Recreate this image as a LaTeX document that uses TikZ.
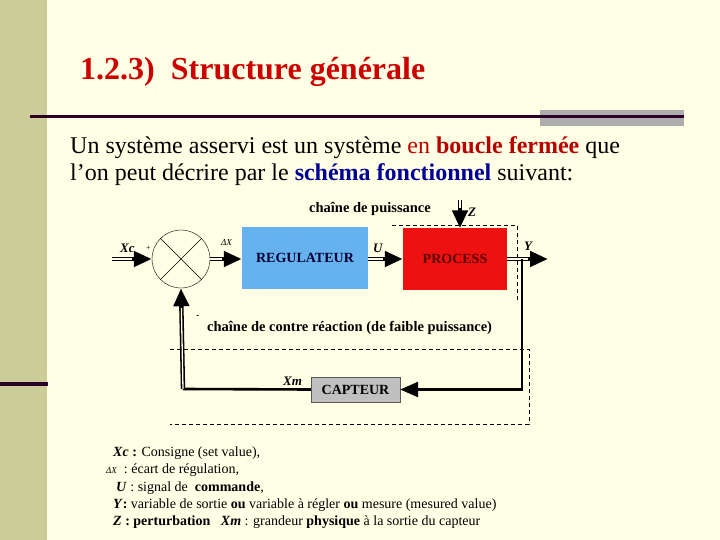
\documentclass[tikz,border=0pt]{standalone}
\usepackage{fontspec}
\setmainfont{Liberation Serif}
\usetikzlibrary{arrows.meta}
\definecolor{fond}{RGB}{255,255,229}
\definecolor{barre}{RGB}{204,204,153}
\definecolor{trait}{RGB}{45,0,40}
\definecolor{titre}{RGB}{204,0,0}
\definecolor{rouge}{RGB}{185,0,0}
\definecolor{bleu}{RGB}{0,0,150}
\definecolor{regbleu}{RGB}{102,178,238}
\definecolor{procrouge}{RGB}{238,17,17}
\definecolor{proctexte}{RGB}{90,0,0}
\definecolor{capgris}{RGB}{192,192,192}
\newcommand\signal[2]{\draw[sig] (#1) -- (#2); \draw[sigint] (#1) -- (#2);}
\begin{document}
\begin{tikzpicture}[x=1pt,y=-1pt,
  bloc/.style={inner sep=0pt,font=\fontsize{14}{14}\selectfont\bfseries},
  pointe/.tip={Triangle[length=18pt,width=15pt]},
  sig/.style={line width=4.4pt,-pointe},
  sigint/.style={draw=fond,line width=1.3pt,shorten >=20pt},
  ret/.style={line width=2.6pt},
  lab/.style={anchor=base west,inner sep=0pt,font=\fontsize{13}{13}\selectfont\bfseries\itshape},
  txt/.style={anchor=base west,inner sep=0pt,font=\fontsize{14}{14}\selectfont},
  pointille/.style={dashed,dash pattern=on 4pt off 3pt,line width=0.7pt}]
   \useasboundingbox (0,0) rectangle (720,540);
   \fill[fond] (0,0) rectangle (720,540);
   \fill[barre] (0,0) rectangle (47,540);
   \fill[trait] (0,382) rectangle (48,386);
   \fill[capgris!90!black] (540,110) rectangle (684,126);
   \draw[trait,line width=3pt] (30,117) -- (684,117);

   \node[anchor=base west,inner sep=0pt,text=titre,font=\fontsize{32}{32}\selectfont\bfseries] (titre) at (80,80) {1.2.3)\hspace{0.5em}Structure générale};
   \node[txt,font=\fontsize{24}{24}\selectfont] (ligne1) at (70,154) {Un système asservi est un système \textcolor{rouge}{en \textbf{boucle fermée}} que};
   \node[txt,font=\fontsize{24}{24}\selectfont] (ligne2) at (70,181) {l'on peut décrire par le \textcolor{bleu}{\textbf{schéma fonctionnel}} suivant:};

   % boucle
   \node[circle,draw,thin,minimum size=58pt,inner sep=0pt] (comp) at (181,259) {};
   \draw[thin] (comp.north west) -- (comp.south east);
   \draw[thin] (comp.north east) -- (comp.south west);
   \node[bloc,fill=regbleu,text=blue!20!black,minimum width=126pt,minimum height=61pt] (reg) at (305,258) {REGULATEUR};
   \node[bloc,fill=procrouge,text=proctexte,minimum width=104pt,minimum height=61pt] (proc) at (455,259) {PROCESS};
   \node[bloc,fill=capgris,draw=gray!70!black,thin,minimum width=89pt,minimum height=25pt] (capt) at (355.5,389.5) {CAPTEUR};

   \coordinate (xc) at (112,259);
   \coordinate (ysort) at (548,259);
   \coordinate (zpert) at (460,200);
   \coordinate (derive) at (522,259);
   \coordinate (coin) at (183,389);

   \signal{xc}{comp.west}
   \signal{comp.east}{reg.west |- comp.east}
   \signal{reg.east |- comp.east}{proc.west |- comp.east}
   \signal{proc.east |- comp.east}{ysort}
   \signal{zpert}{zpert |- proc.north}
   \draw[ret,-pointe] (derive) |- (capt.east);
   \draw[ret] (capt.west) -- (coin);
   \signal{coin}{comp.south}

   \draw[pointille] (392,225) -| (517,303);
   \draw[pointille] (170,349) -| (529,424) -- (170,424);

   \node[lab] (lxc) at (120,252) {Xc};
   \node[anchor=base west,inner sep=0pt,font=\fontsize{8}{8}\selectfont] (plus) at (146,251) {+};
   \node[anchor=base west,inner sep=0pt,font=\fontsize{9}{9}\selectfont\itshape] (ldx) at (221,245) {ΔX};
   \node[lab] (lu) at (373,252) {U};
   \node[lab] (ly) at (524,250) {Y};
   \node[lab] (lz) at (468,217) {Z};
   \node[lab] (lxm) at (283,385) {Xm};
   \node[anchor=base west,inner sep=0pt,font=\fontsize{10}{10}\selectfont] (moins) at (196,318) {-};
   \node[txt,font=\fontsize{14.5}{14.5}\selectfont\bfseries] (puiss) at (309,213) {chaîne de puissance};
   \node[txt,font=\fontsize{14.5}{14.5}\selectfont\bfseries] (contre) at (207,331) {chaîne de contre réaction (de faible puissance)};

   % legende
   \node[txt] (leg1) at (113,456) {\textbf{\textit{Xc}} \textbf{:} Consigne (set value),};
   \node[txt] (leg2) at (106,473) {{\fontsize{9}{9}\selectfont\itshape ΔX}\ \ : écart de régulation,};
   \node[txt] (leg3) at (116,491) {\textbf{\textit{U}} : signal de \ \textbf{commande},};
   \node[txt] (leg4) at (113,508) {\textbf{\textit{Y}}\textbf{:} variable de sortie \textbf{ou} variable à régler \textbf{ou} mesure (mesured value)};
   \node[txt] (leg5) at (113,525) {\textbf{\textit{Z}} \textbf{: perturbation} \ \ \textbf{\textit{Xm}} : grandeur \textbf{physique} à la sortie du capteur};
\end{tikzpicture}
\end{document}
